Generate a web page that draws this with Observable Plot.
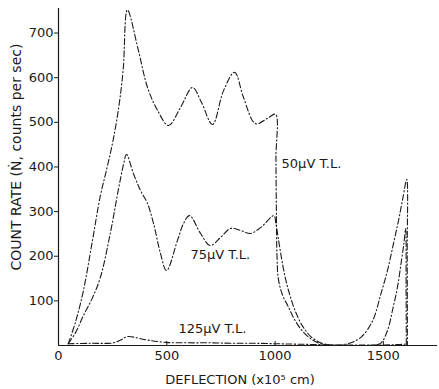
<!DOCTYPE html>
<html><head><meta charset="utf-8">
<script src="https://cdn.jsdelivr.net/npm/d3@7"></script>
<script src="https://cdn.jsdelivr.net/npm/@observablehq/plot@0.6"></script>
<style>body{margin:0;background:#fff}</style>
</head><body><div id="chart"></div>
<script>
const xTicks = [0, 500, 1000, 1500];
const yTicks = [100, 200, 300, 400, 500, 600, 700];
const xLabel = "DEFLECTION (x10⁵ cm)";
const yLabel = "COUNT RATE (Ṅ, counts per sec)";
const seriesNames = ["50μV T.L.", "75μV T.L.", "125μV T.L."];

const x50 = [45, 80, 115, 155, 193, 225, 253, 280, 299, 318, 369, 411, 457, 508, 563, 619, 660, 711, 762, 813, 854, 910, 965, 1002, 1004, 1006, 1009, 1015, 1035, 1060, 1090, 1125, 1165, 1210, 1250, 1300, 1350, 1400, 1450, 1490, 1520, 1547, 1570, 1590, 1608, 1610, 1611];
const y50 = [4, 55, 123, 230, 335, 400, 462, 540, 620, 752, 661, 578, 527, 493, 533, 578, 545, 495, 571, 612, 556, 497, 509, 518, 420, 300, 200, 150, 112, 88, 58, 33, 15, 4, 1, 1, 6, 20, 55, 118, 170, 229, 280, 330, 372, 200, 0];

const x75 = [45, 80, 115, 155, 193, 239, 276, 300, 314, 346, 379, 411, 439, 471, 499, 549, 577, 605, 656, 700, 748, 794, 840, 886, 933, 995, 1003, 1015, 1030, 1048, 1070, 1095, 1125, 1165, 1210, 1260, 1320, 1400, 1460, 1490, 1520, 1545, 1565, 1582, 1595, 1603, 1605, 1606];
const y75 = [4, 30, 67, 105, 152, 251, 348, 405, 428, 385, 347, 318, 273, 206, 168, 235, 273, 291, 251, 224, 242, 262, 258, 251, 264, 291, 275, 240, 195, 150, 110, 75, 45, 20, 6, 1, 0, 0, 1, 6, 35, 85, 130, 185, 229, 262, 130, 0];

const x125 = [45, 150, 254, 290, 318, 400, 494, 600, 700, 800, 900, 1000, 1100, 1200, 1300, 1400, 1500, 1560, 1600];
const y125 = [4, 5, 6, 13, 20, 13, 7, 6, 6, 5, 5, 4, 3, 2, 1, 1, 1, 2, 3];

const series = [
  {name: seriesNames[0], xs: x50, ys: y50},
  {name: seriesNames[1], xs: x75, ys: y75},
  {name: seriesNames[2], xs: x125, ys: y125}
];
const rows = series.flatMap(s => s.xs.map((x, i) => ({series: s.name, x, y: s.ys[i]})));

const ink = "#1a1a1a";
const chart = Plot.plot({
  width: 439,
  height: 389,
  marginLeft: 58,
  marginRight: 2,
  marginTop: 8,
  marginBottom: 44,
  style: {fontFamily: "DejaVu Sans", fontSize: "13px", background: "#fff", color: ink},
  x: {domain: [0, 1750]},
  y: {domain: [0, 755]},
  marks: [
    Plot.axisY({ticks: yTicks, tickSize: 4, tickPadding: 1, tickFormat: d => String(d), label: null, stroke: ink}),
    Plot.axisX({ticks: xTicks, tickSize: 0, tickPadding: 5, tickFormat: d => String(d), label: null}),
    Plot.axisX({ticks: xTicks.slice(1), tickSize: 4, dy: -4, tickFormat: () => "", label: null, stroke: ink}),
    Plot.ruleX([0], {stroke: ink, strokeWidth: 1.2}),
    Plot.ruleY([0], {stroke: ink, strokeWidth: 1.2}),
    Plot.line(rows, {x: "x", y: "y", z: "series", curve: "catmull-rom", stroke: ink, strokeWidth: 1.1, strokeDasharray: "6,2.5,1.2,2.5"}),
    Plot.text([seriesNames[0]], {x: 1030, y: 408, text: d => d, textAnchor: "start", fontSize: 13, fill: ink}),
    Plot.text([seriesNames[1]], {x: 609, y: 204, text: d => d, textAnchor: "start", fontSize: 13, fill: ink}),
    Plot.text([seriesNames[2]], {x: 554, y: 38, text: d => d, textAnchor: "start", fontSize: 13, fill: ink}),
    Plot.text([yLabel], {frameAnchor: "left", text: d => d, textAnchor: "middle", lineAnchor: "middle", rotate: -90, dx: -42, dy: -20, fontSize: 14, fill: ink}),
    Plot.text([xLabel], {frameAnchor: "bottom", text: d => d, textAnchor: "middle", lineAnchor: "middle", dx: -8, dy: 34, fontSize: 13, fill: ink})
  ]
});
document.getElementById("chart").appendChild(chart);
</script>
</body></html>
